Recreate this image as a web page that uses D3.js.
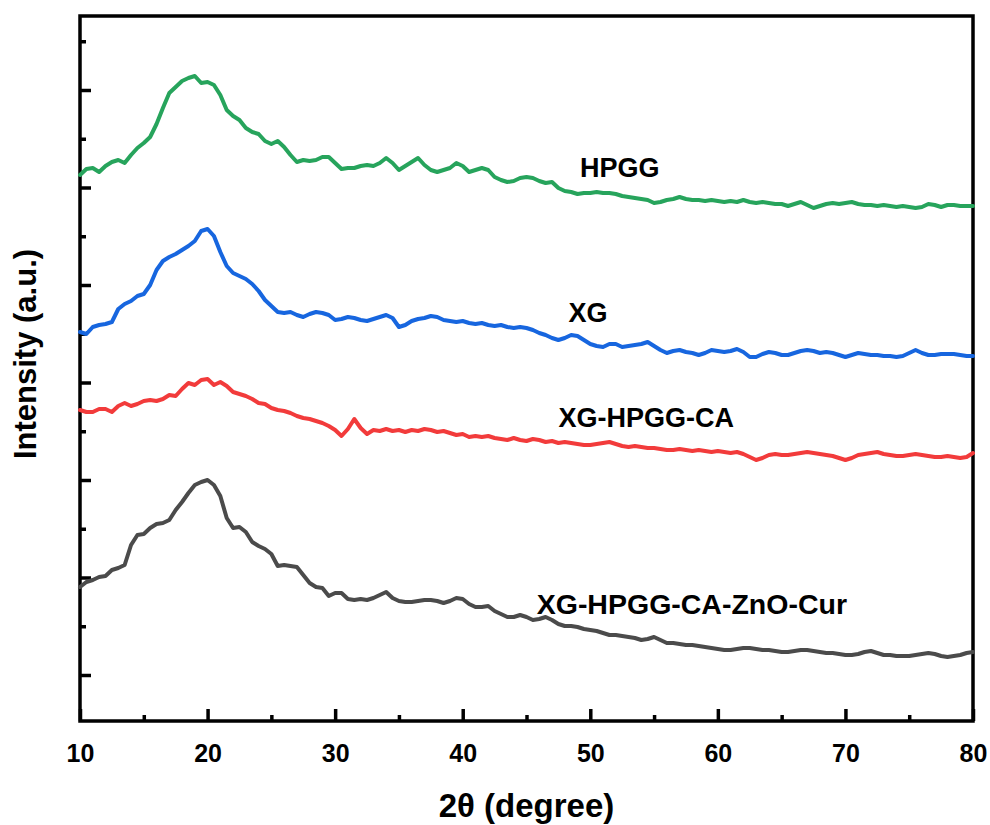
<!DOCTYPE html>
<html>
<head>
<meta charset="utf-8">
<script src="https://cdn.jsdelivr.net/npm/d3@7/dist/d3.min.js"></script>
<style>
  html, body { margin: 0; padding: 0; background: #ffffff; }
  svg { display: block; }
  text { font-family: "Liberation Sans", Arial, "DejaVu Sans", sans-serif; font-weight: bold; fill: #000; }
</style>
</head>
<body>
<div id="chart"></div>
<script>
// XRD patterns, 2θ from 10° to 80° in 0.5° steps; intensities in arbitrary counts (stacked).
const twoTheta = [
  10,10.5,11,11.5,12,12.5,13,13.5,14,14.5,15,15.5,16,16.5,17,17.5,18,18.5,19,19.5,
  20,20.5,21,21.5,22,22.5,23,23.5,24,24.5,25,25.5,26,26.5,27,27.5,28,28.5,29,29.5,
  30,30.5,31,31.5,32,32.5,33,33.5,34,34.5,35,35.5,36,36.5,37,37.5,38,38.5,39,39.5,
  40,40.5,41,41.5,42,42.5,43,43.5,44,44.5,45,45.5,46,46.5,47,47.5,48,48.5,49,49.5,
  50,50.5,51,51.5,52,52.5,53,53.5,54,54.5,55,55.5,56,56.5,57,57.5,58,58.5,59,59.5,
  60,60.5,61,61.5,62,62.5,63,63.5,64,64.5,65,65.5,66,66.5,67,67.5,68,68.5,69,69.5,
  70,70.5,71,71.5,72,72.5,73,73.5,74,74.5,75,75.5,76,76.5,77,77.5,78,78.5,79,79.5,
  80
];

const hpgg = [
  1092,1104,1106,1098,1110,1118,1122,1116,1132,1146,1156,1168,1194,1226,1256,1268,1280,1286,1290,1276,
  1278,1272,1252,1222,1210,1202,1186,1178,1174,1160,1154,1160,1148,1132,1118,1122,1120,1122,1128,1128,
  1116,1104,1106,1106,1110,1112,1110,1116,1126,1116,1102,1110,1118,1126,1112,1102,1098,1102,1106,1116,
  1110,1098,1102,1106,1102,1088,1082,1078,1080,1086,1088,1086,1080,1076,1078,1066,1060,1058,1054,1056,
  1056,1058,1056,1056,1054,1050,1048,1046,1044,1042,1036,1038,1042,1044,1048,1044,1042,1042,1040,1042,
  1040,1038,1040,1038,1042,1038,1036,1038,1036,1034,1034,1030,1034,1038,1032,1026,1030,1034,1036,1034,
  1036,1038,1034,1032,1032,1030,1032,1030,1028,1030,1028,1026,1028,1034,1032,1028,1032,1032,1030,1030,
  1030
];

const xg = [
  778,774,788,792,794,798,824,834,840,850,854,872,902,920,928,934,942,950,960,980,
  984,970,938,910,896,890,884,874,860,842,830,818,816,818,812,808,814,818,816,812,
  802,804,808,806,802,800,804,808,812,806,788,792,800,804,806,810,808,802,800,798,
  800,796,794,796,792,790,792,788,786,788,786,782,776,772,766,762,766,772,770,762,
  754,750,748,754,754,748,750,752,754,758,750,742,736,740,742,738,736,732,736,742,
  740,738,740,744,738,728,728,734,738,736,732,732,736,740,742,740,736,738,736,732,
  728,732,736,734,732,732,730,730,728,730,736,742,736,732,732,734,734,734,732,730,
  730
];

const xgHpggCa = [
  622,618,618,624,624,618,630,636,630,634,640,642,640,644,652,650,664,676,672,682,
  684,672,678,670,658,654,650,644,636,634,626,622,620,616,610,606,604,600,596,590,
  582,570,584,604,586,574,582,580,584,580,582,578,582,580,584,582,578,580,576,572,
  574,568,570,568,570,566,564,562,566,562,560,564,562,558,560,556,558,556,554,552,
  552,554,556,558,554,550,548,550,548,546,546,544,542,542,544,542,540,542,540,538,
  540,538,536,538,534,528,522,526,532,534,532,532,534,536,538,536,534,532,530,526,
  522,526,532,534,536,538,534,532,530,530,532,534,532,530,528,528,530,528,526,528,
  536
];

const xgHpggCaZnoCur = [
  268,278,282,288,290,302,306,312,352,372,374,386,394,396,402,422,438,456,472,478,
  482,472,450,406,386,388,378,358,350,344,334,310,312,310,308,292,276,268,266,250,
  256,256,244,242,244,242,246,252,258,246,240,238,238,240,242,242,240,236,240,246,
  244,234,228,228,230,220,214,208,208,212,208,202,204,208,202,194,190,190,188,184,
  182,180,176,172,172,170,168,166,162,164,168,162,156,156,154,152,152,150,148,146,
  144,142,142,144,146,146,144,142,142,140,138,138,140,142,142,140,138,136,136,134,
  132,132,134,138,140,136,132,132,130,130,130,132,134,136,134,130,128,130,132,136,
  138
];

const seriesNames  = ["HPGG", "XG", "XG-HPGG-CA", "XG-HPGG-CA-ZnO-Cur"];
const seriesColors = ["#27a45c", "#1766df", "#f23b3b", "#4b4b4b"];
const seriesValues = [hpgg, xg, xgHpggCa, xgHpggCaZnoCur];
// label anchor for each curve, in data units [2θ, counts]
const labelAnchors = [[49.2, 1088], [48.3, 798], [47.5, 588], [45.8, 214]];
const labelSizes = [27, 27, 27, 28.5];

const xMajorTicks = [10, 20, 30, 40, 50, 60, 70, 80];
const xMinorTicks = [15, 25, 35, 45, 55, 65, 75];
const yMajorTicks = [92, 287, 482, 677, 872, 1067, 1262];
const yMinorTicks = [189.5, 384.5, 579.5, 774.5, 969.5, 1164.5, 1359.5];

const W = 990, H = 825;
const plot = { left: 80, right: 973, top: 16, bottom: 721 };

const svg = d3.select("#chart").append("svg")
  .attr("width", W).attr("height", H);

const x = d3.scaleLinear().domain([10, 80]).range([plot.left, plot.right]);
const y = d3.scaleLinear().domain([0, 1410]).range([plot.bottom, plot.top]);

// axes: ticks point inward
const axisStroke = 3.5;
function styleAxis(g) {
  g.select(".domain").remove();
  g.selectAll(".tick line").attr("stroke", "#000").attr("stroke-width", axisStroke);
}

svg.append("g")
  .attr("transform", `translate(0,${plot.bottom})`)
  .call(d3.axisBottom(x).tickValues(xMajorTicks).tickSizeInner(-12).tickSizeOuter(0)
        .tickPadding(23).tickFormat(d3.format("d")))
  .call(styleAxis)
  .call(g => g.selectAll(".tick text")
      .attr("font-size", 25).attr("font-family", "'Liberation Sans', Arial, sans-serif")
      .attr("font-weight", "bold").attr("fill", "#000"));

svg.append("g")
  .attr("transform", `translate(0,${plot.bottom})`)
  .call(d3.axisBottom(x).tickValues(xMinorTicks).tickSizeInner(-6).tickSizeOuter(0).tickFormat(""))
  .call(styleAxis);

svg.append("g")
  .attr("transform", `translate(${plot.left},0)`)
  .call(d3.axisLeft(y).tickValues(yMajorTicks).tickSizeInner(-11).tickSizeOuter(0).tickFormat(""))
  .call(styleAxis);

svg.append("g")
  .attr("transform", `translate(${plot.left},0)`)
  .call(d3.axisLeft(y).tickValues(yMinorTicks).tickSizeInner(-6).tickSizeOuter(0).tickFormat(""))
  .call(styleAxis);

// frame
svg.append("rect")
  .attr("x", plot.left).attr("y", plot.top)
  .attr("width", plot.right - plot.left).attr("height", plot.bottom - plot.top)
  .attr("fill", "none").attr("stroke", "#000").attr("stroke-width", axisStroke);

// curves
const line = d3.line()
  .x((d, i) => x(twoTheta[i]))
  .y(d => y(d));

svg.append("g").selectAll("path")
  .data(seriesValues)
  .join("path")
  .attr("d", line)
  .attr("fill", "none")
  .attr("stroke", (d, i) => seriesColors[i])
  .attr("stroke-width", 4)
  .attr("stroke-linejoin", "round")
  .attr("stroke-linecap", "round");

// curve labels
svg.append("g").selectAll("text")
  .data(seriesNames)
  .join("text")
  .attr("x", (d, i) => x(labelAnchors[i][0]))
  .attr("y", (d, i) => y(labelAnchors[i][1]))
  .attr("font-size", (d, i) => labelSizes[i])
  .text(d => d);

// axis titles
svg.append("text")
  .attr("x", (plot.left + plot.right) / 2)
  .attr("y", 817)
  .attr("text-anchor", "middle")
  .attr("font-size", 33)
  .text("2θ (degree)");

svg.append("text")
  .attr("transform", "translate(36,354) rotate(-90)")
  .attr("text-anchor", "middle")
  .attr("font-size", 31)
  .text("Intensity (a.u.)");
</script>
</body>
</html>
